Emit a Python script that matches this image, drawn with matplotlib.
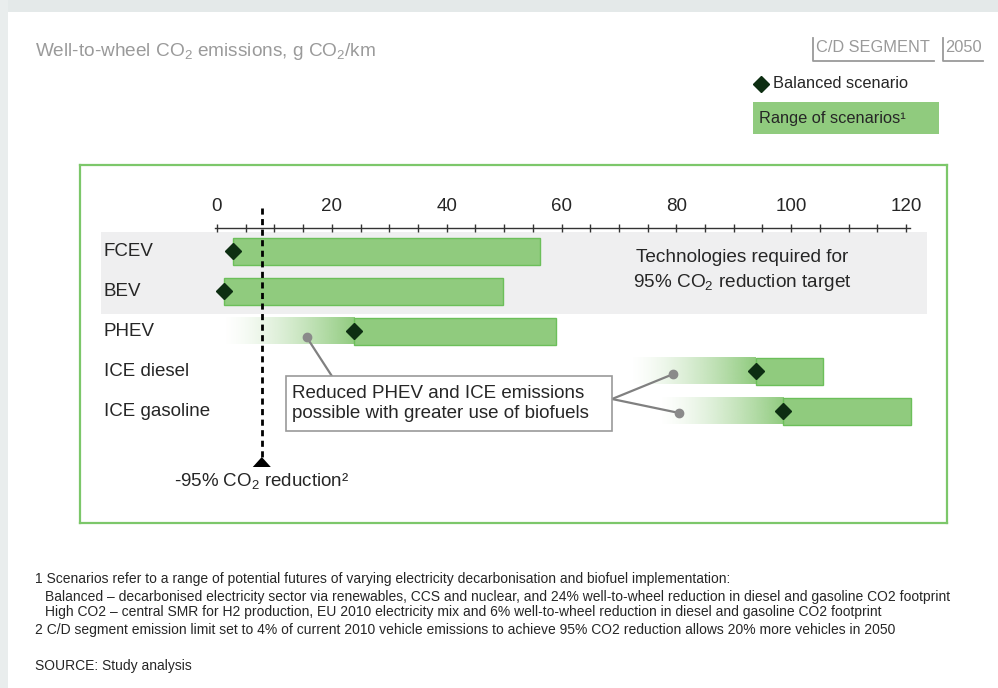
import numpy as np
import matplotlib
matplotlib.use("Agg")
import matplotlib.pyplot as plt
from matplotlib.patches import Rectangle, Polygon
from matplotlib.lines import Line2D

plt.rcParams["font.family"] = ["Liberation Sans", "DejaVu Sans"]
plt.rcParams["mathtext.fontset"] = "custom"
plt.rcParams["mathtext.rm"] = "Liberation Sans"
plt.rcParams["mathtext.it"] = "Liberation Sans:italic"

# data (g CO2/km)
categories = ["FCEV", "BEV", "PHEV", "ICE diesel", "ICE gasoline"]
range_low = [2.7, 1.2, 23.9, 93.9, 98.6]
range_high = [56.3, 49.8, 59.1, 105.5, 120.8]
balanced = [2.7, 1.2, 23.9, 93.9, 98.6]
biofuel_start = [None, None, 1.0, 72.0, 77.0]   # where the faded part begins
biofuel_dot = [None, None, 15.6, 79.4, 80.5]
target = 7.8
ticks_major = [0, 20, 40, 60, 80, 100, 120]

GREEN = "#90cb7e"
GREEN_EDGE = "#6cbf5a"
DIAMOND = "#0d2e12"
TXT = "#262626"

W, H = 998, 688
fig = plt.figure(figsize=(W / 100, H / 100), dpi=100)
fig.patch.set_facecolor("white")

# page shadow at the top and left
fig.add_artist(Rectangle((0, 1 - 12 / H), 1, 12 / H, transform=fig.transFigure,
                         facecolor="#e4e9e9", edgecolor="none"))
fig.add_artist(Rectangle((0, 0), 8 / W, 1, transform=fig.transFigure,
                         facecolor="#e9eded", edgecolor="none"))

# main frame axes (green box)
px_per_unit = 5.742
x0_px = 217
fl, fr, ft, fb = 80, 947, 165, 523
ax = fig.add_axes([fl / W, 1 - fb / H, (fr - fl) / W, (fb - ft) / H])
xlim = ((fl - x0_px) / px_per_unit, (fr - x0_px) / px_per_unit)
row0, row_px = 251, 40
ylim = ((fb - row0) / row_px, (ft - row0) / row_px)
for s in ax.spines.values():
    s.set_color("#7cc76a")
    s.set_linewidth(1.6)
ax.set_xticks([])
ax.set_yticks([])

# gray band behind FCEV / BEV
ax.add_patch(Rectangle((-20.2, -0.475), 143.85, 2.05, facecolor="#efeff0",
                       edgecolor="none", zorder=0))

bar_h = 0.675
for i, cat in enumerate(categories):
    ax.text(-19.7, i, cat, ha="left", va="center", fontsize=13.5, color=TXT)
    if biofuel_start[i] is not None:
        grad = np.zeros((1, 256, 4))
        grad[..., :3] = matplotlib.colors.to_rgb(GREEN)
        grad[..., 3] = np.linspace(0, 1, 256) ** 1.4
        ax.imshow(grad, extent=(biofuel_start[i], range_low[i], i + bar_h / 2, i - bar_h / 2),
                  aspect="auto", zorder=1, interpolation="bilinear")
    ax.add_patch(Rectangle((range_low[i], i - bar_h / 2), range_high[i] - range_low[i], bar_h,
                           facecolor=GREEN, edgecolor=GREEN_EDGE, linewidth=1, zorder=2))
ax.plot(balanced, range(len(categories)), linestyle="none", marker="D", markersize=8,
        color=DIAMOND, zorder=4)

# -95% target line
ax.plot([target, target], [-1.075, 5.15], color="black", lw=2, dashes=(2.2, 1.6), zorder=3)
tri_w, tri_top, tri_bot = 1.57, 5.15, 5.4
ax.add_patch(Polygon([(target - tri_w, tri_bot), (target + tri_w, tri_bot), (target, tri_top)],
                     closed=True, facecolor="black", edgecolor="none", zorder=3))
ax.text(target, 5.75, r"-95% CO${}_2$ reduction²", ha="center", va="center",
        fontsize=13.5, color=TXT)

# text on the gray band
ax.text(91.5, 0.5, "Technologies required for\n" + r"95% CO${}_2$ reduction target",
        ha="center", va="center", fontsize=13.7, color=TXT, linespacing=1.35)

# biofuel note box
bx0, bx1, by0, by1 = 12.0, 68.8, 3.125, 4.5
ax.add_patch(Rectangle((bx0, by0), bx1 - bx0, by1 - by0, facecolor="white",
                       edgecolor="#9a9a9a", linewidth=1.2, zorder=5))
ax.text(bx0 + 1.0, (by0 + by1) / 2,
        "Reduced PHEV and ICE emissions\npossible with greater use of biofuels",
        ha="left", va="center", fontsize=13.5, color=TXT, linespacing=1.3, zorder=6)
dot_y = [None, None, 2.15, 3.08, 4.05]
ax.plot([20.0, biofuel_dot[2]], [by0, dot_y[2]], color="#808080", lw=1.6, zorder=4)
for i in (3, 4):
    ax.plot([bx1, biofuel_dot[i]], [3.7, dot_y[i]], color="#808080", lw=1.6, zorder=4)
ax.plot([biofuel_dot[i] for i in (2, 3, 4)], [dot_y[i] for i in (2, 3, 4)],
        linestyle="none", marker="o", markersize=6, color="#8a8a8a", zorder=4)

ax.set_xlim(xlim)
ax.set_ylim(ylim)

# value axis at the top
a0, a1 = 215, 910
axis_y = 227.7
tax = fig.add_axes([a0 / W, 1 - axis_y / H, (a1 - a0) / W, 0.0001])
tax.set_xlim((a0 - x0_px) / px_per_unit, (a1 - x0_px) / px_per_unit)
tax.patch.set_alpha(0)
for k in ("left", "right", "bottom"):
    tax.spines[k].set_visible(False)
tax.spines["top"].set_color("#333333")
tax.spines["top"].set_linewidth(1)
tax.set_yticks([])
tax.xaxis.tick_top()
tax.set_xticks(ticks_major)
tax.set_xticks(np.arange(0, 121, 5), minor=True)
tax.tick_params(axis="x", which="both", direction="inout", length=6, width=1,
                color="#333333", labelsize=13.5, labelcolor=TXT, pad=6)

# header
fig.text(35 / W, 1 - 51 / H, r"Well-to-wheel CO${}_2$ emissions, g CO${}_2$/km",
         ha="left", va="center", fontsize=13.7, color="#9a9a9a")
fig.text(816 / W, 1 - 48 / H, "C/D SEGMENT", ha="left", va="center", fontsize=11.8,
         color="#9a9a9a")
fig.text(945 / W, 1 - 48 / H, "2050", ha="left", va="center", fontsize=11.8, color="#9a9a9a")
for lx, rx in ((813, 934), (943, 983)):
    fig.add_artist(Line2D([lx / W, lx / W, rx / W], [1 - 38 / H, 1 - 61 / H, 1 - 61 / H],
                          transform=fig.transFigure, color="#9a9a9a", lw=1.3))

# legend
fig.add_artist(Line2D([761 / W], [1 - 84 / H], transform=fig.transFigure, marker="D",
                      markersize=8, color=DIAMOND, linestyle="none"))
fig.text(773 / W, 1 - 84 / H, "Balanced scenario", ha="left", va="center", fontsize=11.8,
         color=TXT)
fig.add_artist(Rectangle((753 / W, 1 - 134 / H), 186 / W, 32 / H, transform=fig.transFigure,
                         facecolor=GREEN, edgecolor="none"))
fig.text(759 / W, 1 - 118 / H, "Range of scenarios¹", ha="left", va="center", fontsize=11.8,
         color=TXT)

# footnotes
notes = [
    (35, 579, "1 Scenarios refer to a range of potential futures of varying electricity "
              "decarbonisation and biofuel implementation:"),
    (45, 597, "Balanced – decarbonised electricity sector via renewables, CCS and nuclear, and 24% "
              "well-to-wheel reduction in diesel and gasoline CO2 footprint"),
    (45, 612, "High CO2 – central SMR for H2 production, EU 2010 electricity mix and 6% "
              "well-to-wheel reduction in diesel and gasoline CO2 footprint"),
    (35, 630, "2 C/D segment emission limit set to 4% of current 2010 vehicle emissions to "
              "achieve 95% CO2 reduction allows 20% more vehicles in 2050"),
    (35, 666, "SOURCE: Study analysis"),
]
for x, y, t in notes:
    fig.text(x / W, 1 - y / H, t, ha="left", va="center", fontsize=10, color=TXT)

fig.savefig("out.png", dpi=100)
